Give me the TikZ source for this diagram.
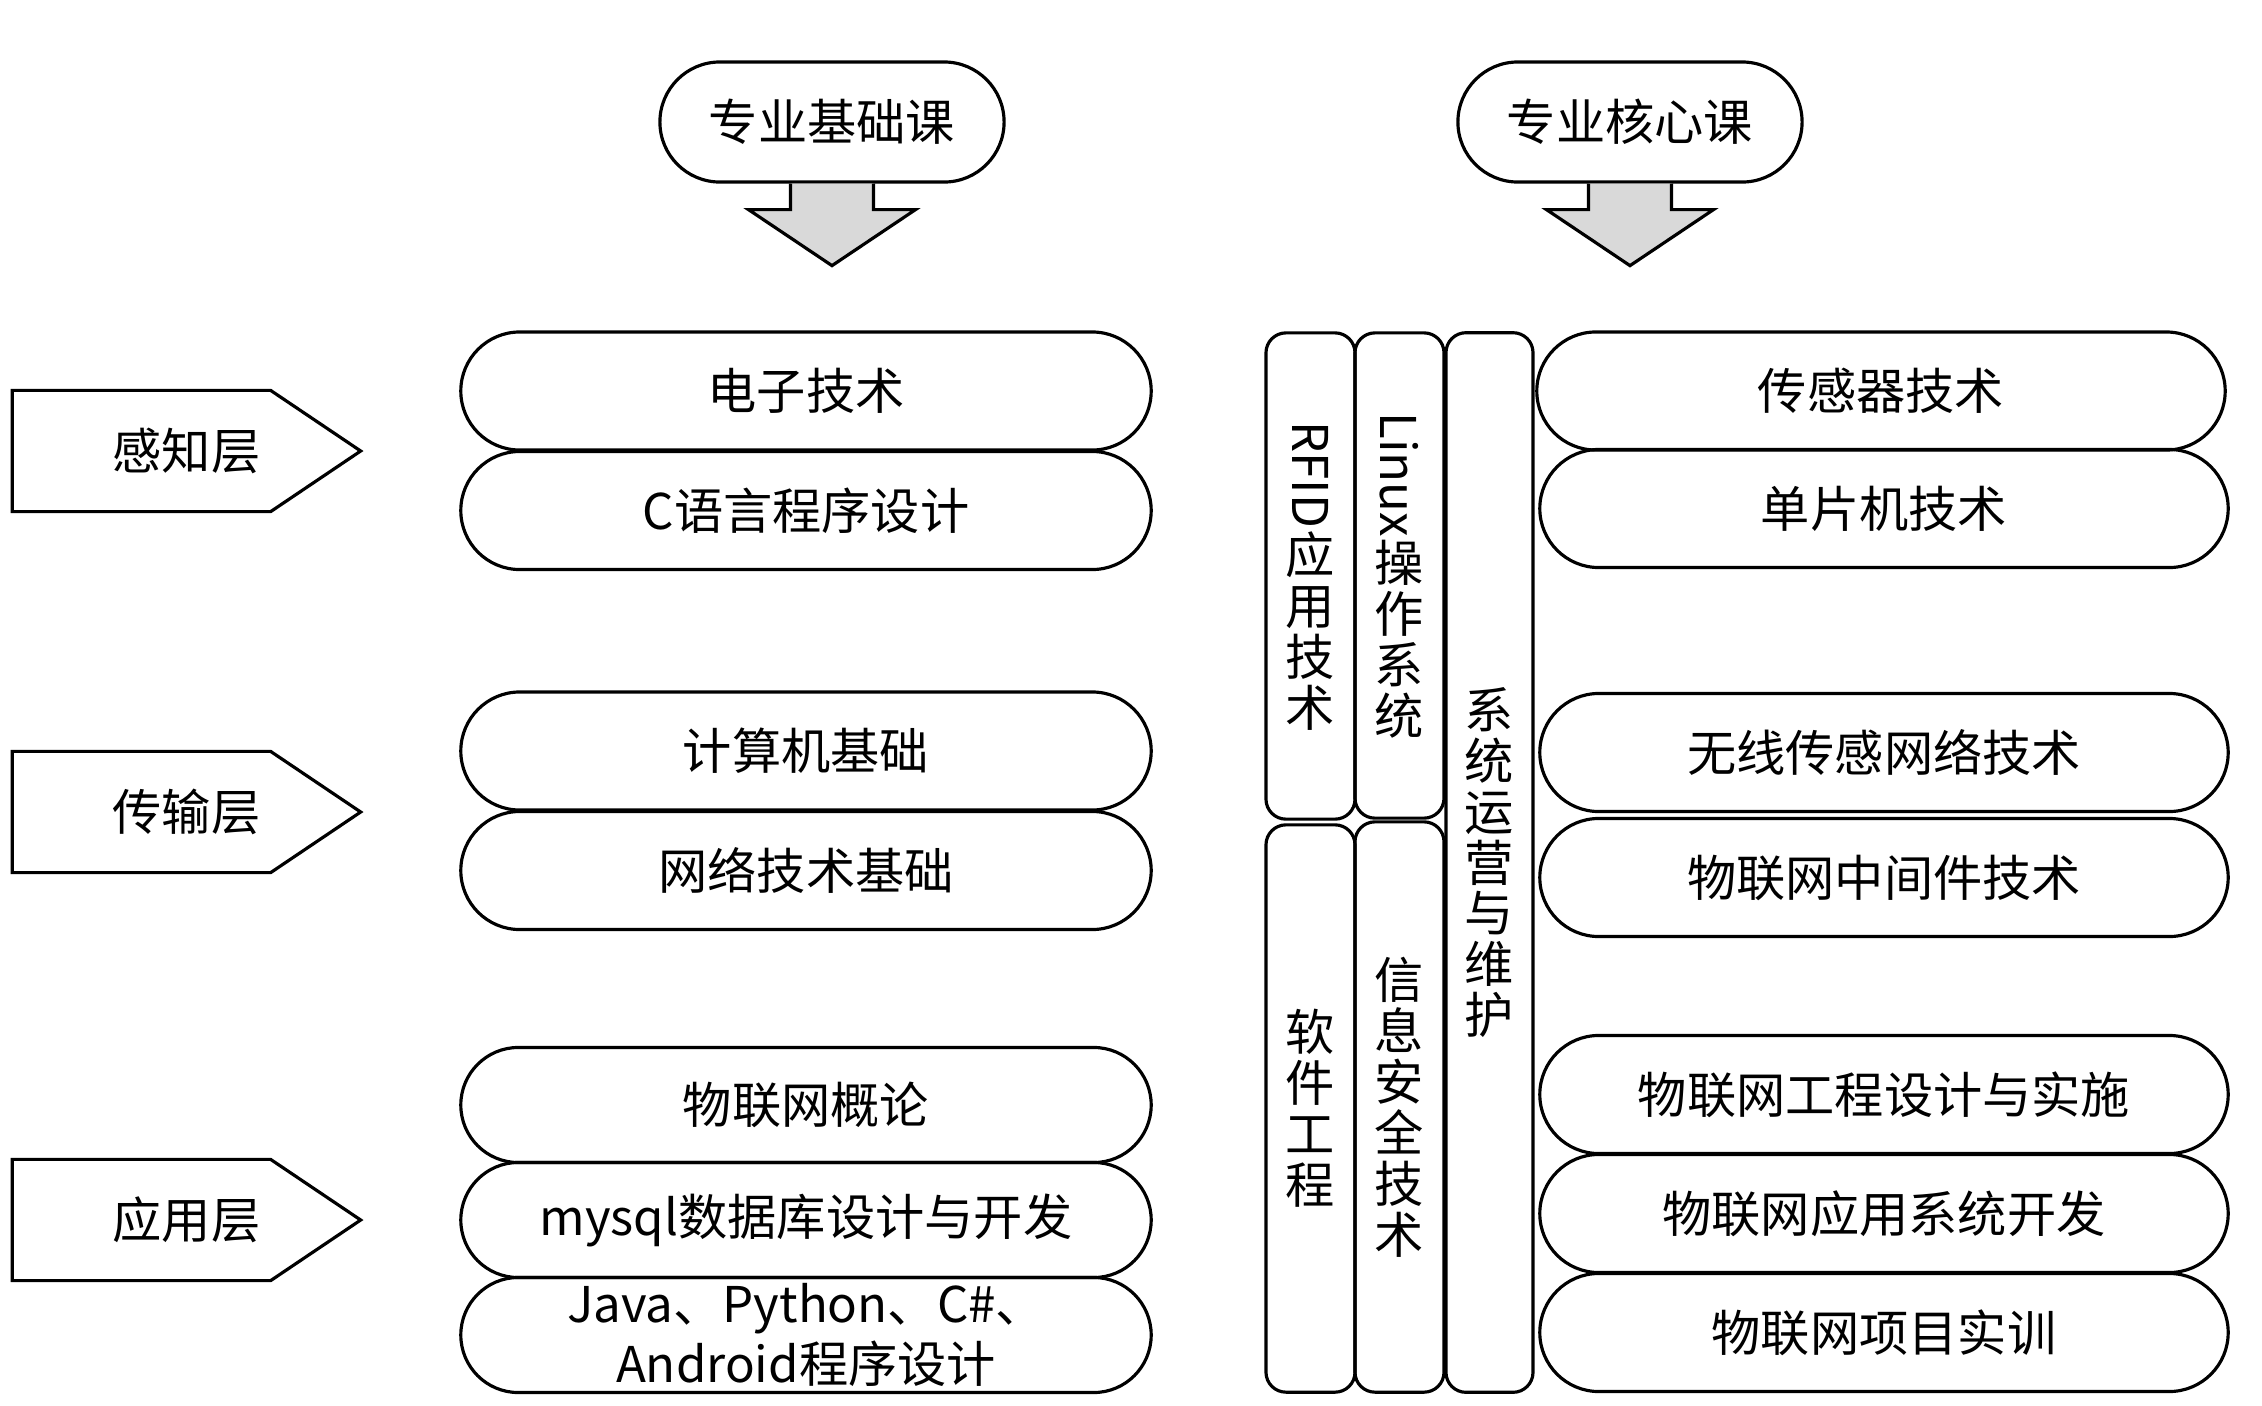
\documentclass[tikz,border=0pt]{standalone}
\usepackage{fontspec}
\setmainfont{Noto Sans CJK SC}
\usetikzlibrary{shapes.misc}
\definecolor{arrowgray}{RGB}{217,217,217}
\newcommand{\kfont}{\fontsize{14pt}{17pt}\selectfont}
\newcommand{\vfont}{\fontsize{14pt}{14.5pt}\selectfont}

\begin{document}
\begin{tikzpicture}[x=0.01cm,y=-0.01cm,line width=0.9pt,
  pill/.style={rounded rectangle,draw,minimum height=1.18cm,inner sep=0pt,font=\kfont},
  headpill/.style={pill,minimum width=3.44cm,minimum height=1.2cm},
  leftpill/.style={pill,minimum width=6.9cm},
  rightpill/.style={pill,minimum width=6.88cm},
  vbox/.style={draw,rounded corners=0.2cm,minimum width=0.89cm,inner sep=0pt,align=center,font=\vfont},
  layer/.style={minimum width=3.45cm,minimum height=1.18cm,inner sep=0pt,font=\kfont},
  downarrow/.style={draw,fill=arrowgray,line join=miter}]
\useasboundingbox (0,0) rectangle (2262,1405);

\node[headpill] (jc) at (832,122) {专业基础课};
\node[headpill] (hx) at (1630,122) {专业核心课};
\draw[downarrow] ([shift={(-41.5,0)}]jc.south) -- ++(0,26) -- ++(-42,0) -- ++(83.5,56)
  -- ++(83.5,-56) -- ++(-42,0) -- ++(0,-26);
\draw[downarrow] ([shift={(-41.5,0)}]hx.south) -- ++(0,26) -- ++(-42,0) -- ++(83.5,56)
  -- ++(83.5,-56) -- ++(-42,0) -- ++(0,-26);

\node[layer] (gz) at (186.5,451) {感知层};
\node[layer] (cs) at (186.5,812) {传输层};
\node[layer] (yy) at (186.5,1220) {应用层};
\draw (gz.north west) -- ([xshift=-0.9cm]gz.north east) -- (gz.east) -- ([xshift=-0.9cm]gz.south east) -- (gz.south west) -- cycle;
\draw (cs.north west) -- ([xshift=-0.9cm]cs.north east) -- (cs.east) -- ([xshift=-0.9cm]cs.south east) -- (cs.south west) -- cycle;
\draw (yy.north west) -- ([xshift=-0.9cm]yy.north east) -- (yy.east) -- ([xshift=-0.9cm]yy.south east) -- (yy.south west) -- cycle;

\node[leftpill] (dz) at (806,391) {电子技术};
\node[leftpill] (cy) at (806,510.5) {C语言程序设计};
\node[leftpill] (js) at (806,751) {计算机基础};
\node[leftpill] (wl) at (806,870.5) {网络技术基础};
\node[leftpill,minimum height=1.15cm] (gl) at (806,1105) {物联网概论};
\node[leftpill,minimum height=1.15cm] (my) at (806,1220) {mysql数据库设计与开发};
\node[leftpill,minimum height=1.15cm,align=center] (cx) at (806,1335) {Java、Python、C\#、\\Android程序设计};

\node[vbox,minimum height=4.86cm] (rf) at (1310.5,576) {\rotatebox{-90}{RFID}\\应\\用\\技\\术};
\node[vbox,minimum height=5.67cm] (rj) at (1310.5,1108.5) {软\\件\\工\\程};
\node[vbox,minimum height=4.85cm] (lx) at (1399.5,575.5) {\rotatebox{-90}{Linux}\\操\\作\\系\\统};
\node[vbox,minimum height=5.70cm] (xx) at (1399.5,1107) {信\\息\\安\\全\\技\\术};
\node[vbox,minimum width=0.87cm,minimum height=10.59cm] (xt) at (1489.5,862.5) {系\\统\\运\\营\\与\\维\\护};

\node[rightpill] (cg) at (1881,391) {传感器技术};
\node[rightpill] (dp) at (1884,508.5) {单片机技术};
\node[rightpill] (wx) at (1884,752.5) {无线传感网络技术};
\node[rightpill] (zj) at (1884,877.5) {物联网中间件技术};
\node[rightpill] (gc) at (1884,1094.5) {物联网工程设计与实施};
\node[rightpill] (kf) at (1884,1213.5) {物联网应用系统开发};
\node[rightpill] (sx) at (1884,1332.5) {物联网项目实训};
\end{tikzpicture}
\end{document}
